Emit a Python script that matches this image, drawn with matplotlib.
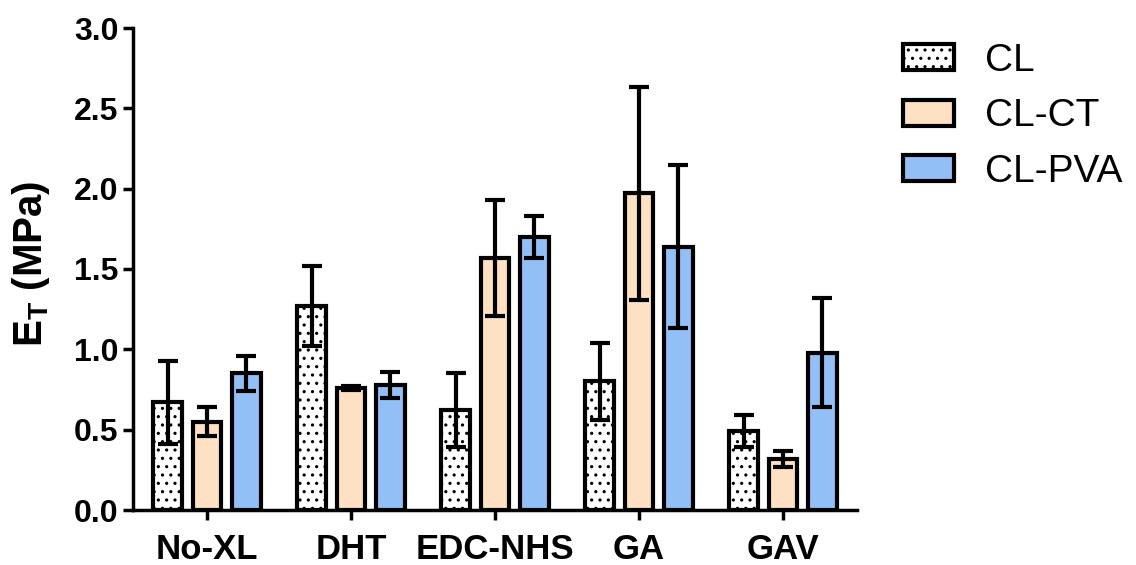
import numpy as np
import matplotlib
matplotlib.use('Agg')
import matplotlib.pyplot as plt

plt.rcParams['font.family'] = ['Liberation Sans', 'DejaVu Sans']
plt.rcParams['hatch.linewidth'] = 1.1

groups = ['No-XL', 'DHT', 'EDC-NHS', 'GA', 'GAV']
series = ['CL', 'CL-CT', 'CL-PVA']

cl_mean = [0.67, 1.27, 0.62, 0.80, 0.49]
cl_err = [0.26, 0.25, 0.23, 0.24, 0.10]
ct_mean = [0.55, 0.76, 1.57, 1.97, 0.32]
ct_err = [0.09, 0.01, 0.36, 0.66, 0.05]
pva_mean = [0.85, 0.78, 1.70, 1.64, 0.98]
pva_err = [0.11, 0.08, 0.13, 0.51, 0.34]

means = [cl_mean, ct_mean, pva_mean]
errs = [cl_err, ct_err, pva_err]
colors = ['white', '#FEE0C2', '#93BFF7']
hatches = ['..', None, None]

fig = plt.figure(figsize=(11.36, 5.65), dpi=100)
ax = fig.add_axes([133 / 1136, 55 / 565, 724 / 1136, 482 / 565])

x = np.arange(len(groups))
width = 0.2
offsets = [-0.274, 0.0, 0.274]

for i in range(3):
    ax.bar(x + offsets[i], means[i], width, color=colors[i], edgecolor='black',
           linewidth=3, hatch=hatches[i], label=series[i], zorder=2)
    ax.errorbar(x + offsets[i], means[i], yerr=errs[i], fmt='none', ecolor='black',
                elinewidth=3, capsize=7, capthick=3, zorder=3)

ax.set_xlim(-0.514, 4.514)
ax.set_ylim(0, 3.0)
ax.set_yticks(np.arange(0, 3.01, 0.5))
ax.set_yticklabels(['%.1f' % v for v in np.arange(0, 3.01, 0.5)],
                   fontsize=23, fontweight='bold')
ax.set_xticks(x)
ax.set_xticklabels(groups, fontsize=25, fontweight='bold')
ax.set_ylabel('E$_\\mathregular{T}$ (MPa)', fontsize=29, fontweight='bold', labelpad=8)
ax.yaxis.set_label_coords(-0.112, 0.51)

for s in ['top', 'right']:
    ax.spines[s].set_visible(False)
for s in ['left', 'bottom']:
    ax.spines[s].set_linewidth(2.5)
ax.tick_params(axis='both', width=2.5, length=7.5)
ax.tick_params(axis='y', pad=3)
ax.tick_params(axis='x', pad=9)

ax.legend(loc='upper left', bbox_to_anchor=(903 / 1136, 522 / 565),
          bbox_transform=fig.transFigure, frameon=False, fontsize=28,
          handlelength=1.3, handleheight=0.65, labelspacing=0.5,
          handletextpad=0.8, borderpad=0, borderaxespad=0)

fig.savefig('out.png', dpi=100)
